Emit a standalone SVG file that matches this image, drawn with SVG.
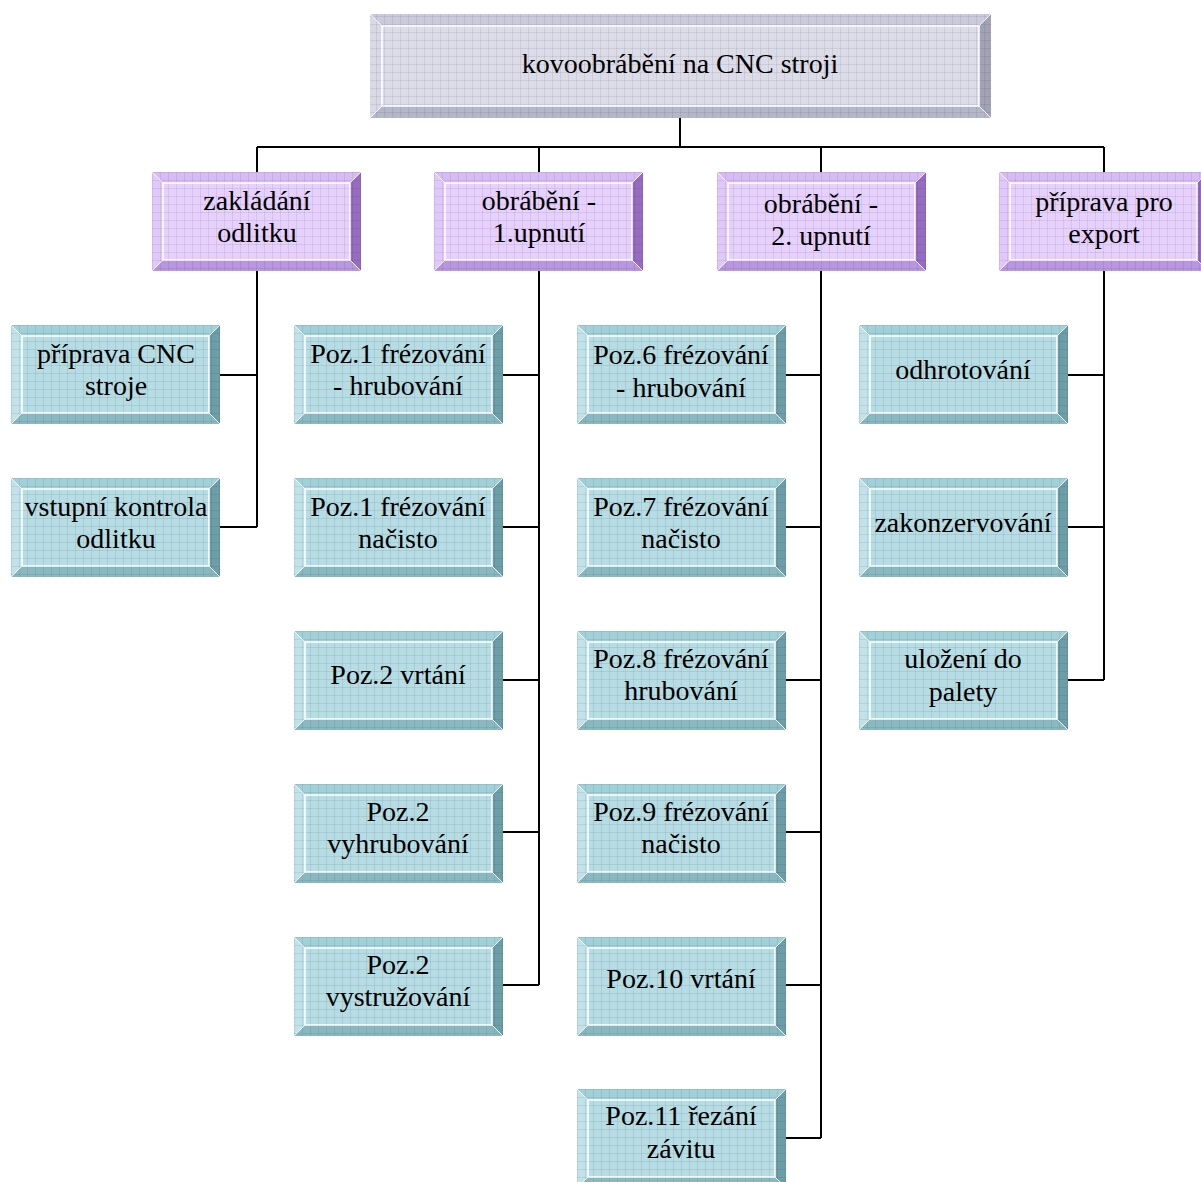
<svg xmlns="http://www.w3.org/2000/svg" xmlns:xlink="http://www.w3.org/1999/xlink" width="1201" height="1182" viewBox="0 0 1201 1182">
<style>
text{font-family:'Liberation Serif','DejaVu Serif',serif;font-size:28px;fill:#000;text-anchor:middle}
.c{fill:none;stroke:#000;stroke-width:2}
.edge{fill:none;stroke:#fff;stroke-width:1.5}
.diag{stroke:#fff;stroke-width:1;opacity:0.8}
</style>
<defs>
<pattern id="grid" patternUnits="userSpaceOnUse" width="8" height="8">
<path d="M0 0.5H8M0.5 0V8" stroke="#000" stroke-opacity="0.07" stroke-width="1" fill="none"/>
</pattern>
<symbol id="teal" viewBox="0 0 209 99" width="209" height="99" overflow="visible">
<rect x="11" y="11" width="187" height="77" fill="#b6dce4"/>
<polygon points="0,0 209,0 198,11 11,11" fill="#a2d0d9"/>
<polygon points="0,0 11,11 11,88 0,99" fill="#c2e2e9"/>
<polygon points="209,0 209,99 198,88 198,11" fill="#6d9ea8"/>
<polygon points="0,99 11,88 198,88 209,99" fill="#89b8c1"/>
<rect x="0" y="0" width="209" height="99" fill="url(#grid)"/>
<rect x="11" y="11" width="187" height="77" class="edge"/>
<path d="M0 0L11 11M209 0L198 11M0 99L11 88M209 99L198 88" class="diag"/>
</symbol>
<symbol id="purple" viewBox="0 0 209 99" width="209" height="99" overflow="visible">
<rect x="11" y="11" width="187" height="77" fill="#e6d0fc"/>
<polygon points="0,0 209,0 198,11 11,11" fill="#d6bbf4"/>
<polygon points="0,0 11,11 11,88 0,99" fill="#e0c8fa"/>
<polygon points="209,0 209,99 198,88 198,11" fill="#966cc2"/>
<polygon points="0,99 11,88 198,88 209,99" fill="#b996e0"/>
<rect x="0" y="0" width="209" height="99" fill="url(#grid)"/>
<rect x="11" y="11" width="187" height="77" class="edge"/>
<path d="M0 0L11 11M209 0L198 11M0 99L11 88M209 99L198 88" class="diag"/>
</symbol>
</defs>

<g id="connectors">
<path class="c" d="M680 118V147M257 147H1104M257 147V172M539 147V172M821 147V172M1104 147V172"/>
<path class="c" d="M257 271V527M220 375H257M220 527H257"/>
<path class="c" d="M539 271V985M503 375H539M503 527H539M503 680H539M503 832H539M503 985H539"/>
<path class="c" d="M821 271V1138M785 375H821M785 527H821M785 680H821M785 832H821M785 985H821M785 1138H821"/>
<path class="c" d="M1104 271V680M1068 375H1104M1068 527H1104M1068 680H1104"/>
</g>

<g font-family="Liberation Serif, DejaVu Serif, serif">
<g id="root">
<rect x="382" y="26" width="597" height="80" fill="#dcdce8"/>
<polygon points="370,14 991,14 979,26 382,26" fill="#cacadc"/>
<polygon points="370,14 382,26 382,106 370,118" fill="#d8d8e6"/>
<polygon points="991,14 991,118 979,106 979,26" fill="#a2a2b6"/>
<polygon points="370,118 382,106 979,106 991,118" fill="#b6b6ca"/>
<rect x="370" y="14" width="621" height="104" fill="url(#grid)"/>
<rect x="382" y="26" width="597" height="80" class="edge"/>
<path d="M370 14L382 26M991 14L979 26M370 118L382 106M991 118L979 106" class="diag"/>
<text x="680" y="73">kovoobrábění na CNC stroji</text>
</g>

<g id="zakladani">
<use xlink:href="#purple" x="152" y="172"/>
<text x="257" y="210">zakládání</text>
<text x="257" y="242">odlitku</text>
</g>
<g id="obrabeni1">
<use xlink:href="#purple" x="434" y="172"/>
<text x="539" y="210">obrábění -</text>
<text x="539" y="242">1.upnutí</text>
</g>
<g id="obrabeni2">
<use xlink:href="#purple" x="717" y="172"/>
<text x="821" y="213">obrábění -</text>
<text x="821" y="245">2. upnutí</text>
</g>
<g id="export">
<use xlink:href="#purple" x="999" y="172"/>
<text x="1104" y="211">příprava pro</text>
<text x="1104" y="243">export</text>
</g>

<g id="n-priprava">
<use xlink:href="#teal" x="11" y="325"/>
<text x="116" y="363">příprava CNC</text>
<text x="116" y="395">stroje</text>
</g>
<g id="n-vstupni">
<use xlink:href="#teal" x="11" y="478"/>
<text x="116" y="516">vstupní kontrola</text>
<text x="116" y="548">odlitku</text>
</g>

<g id="n-poz1h">
<use xlink:href="#teal" x="294" y="325"/>
<text x="398" y="363">Poz.1 frézování</text>
<text x="398" y="395">- hrubování</text>
</g>
<g id="n-poz1n">
<use xlink:href="#teal" x="294" y="478"/>
<text x="398" y="516">Poz.1 frézování</text>
<text x="398" y="548">načisto</text>
</g>
<g id="n-poz2v">
<use xlink:href="#teal" x="294" y="631"/>
<text x="398" y="684">Poz.2 vrtání</text>
</g>
<g id="n-poz2vy">
<use xlink:href="#teal" x="294" y="784"/>
<text x="398" y="821">Poz.2</text>
<text x="398" y="853">vyhrubování</text>
</g>
<g id="n-poz2vs">
<use xlink:href="#teal" x="294" y="937"/>
<text x="398" y="974">Poz.2</text>
<text x="398" y="1006">vystružování</text>
</g>

<g id="n-poz6">
<use xlink:href="#teal" x="577" y="325"/>
<text x="681" y="364">Poz.6 frézování</text>
<text x="681" y="397">- hrubování</text>
</g>
<g id="n-poz7">
<use xlink:href="#teal" x="577" y="478"/>
<text x="681" y="516">Poz.7 frézování</text>
<text x="681" y="548">načisto</text>
</g>
<g id="n-poz8">
<use xlink:href="#teal" x="577" y="631"/>
<text x="681" y="668">Poz.8 frézování</text>
<text x="681" y="700">hrubování</text>
</g>
<g id="n-poz9">
<use xlink:href="#teal" x="577" y="784"/>
<text x="681" y="821">Poz.9 frézování</text>
<text x="681" y="853">načisto</text>
</g>
<g id="n-poz10">
<use xlink:href="#teal" x="577" y="937"/>
<text x="681" y="988">Poz.10 vrtání</text>
</g>
<g id="n-poz11">
<use xlink:href="#teal" x="577" y="1089"/>
<text x="681" y="1125">Poz.11 řezání</text>
<text x="681" y="1158">závitu</text>
</g>

<g id="n-odhrot">
<use xlink:href="#teal" x="859" y="325"/>
<text x="963" y="379">odhrotování</text>
</g>
<g id="n-zakonz">
<use xlink:href="#teal" x="859" y="478"/>
<text x="963" y="532">zakonzervování</text>
</g>
<g id="n-ulozeni">
<use xlink:href="#teal" x="859" y="631"/>
<text x="963" y="668">uložení do</text>
<text x="963" y="701">palety</text>
</g>
</g>
</svg>
